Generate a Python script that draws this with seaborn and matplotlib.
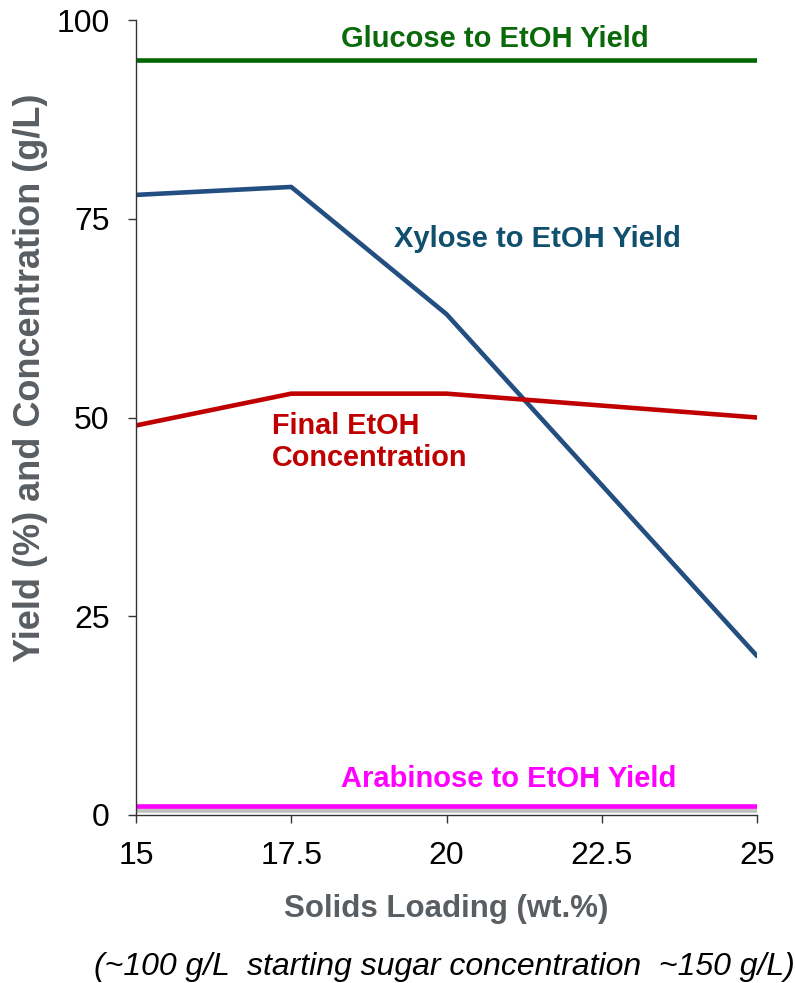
import pandas as pd
import matplotlib
matplotlib.use("Agg")
import matplotlib.pyplot as plt
import matplotlib.patheffects as pe
import seaborn as sns

solids = [15, 17.5, 20, 25]
glucose_yield = [95, 95, 95, 95]
xylose_yield = [78, 79, 63, 20]
etoh_conc = [49, 53, 53, 50]
arabinose_yield = [1.1, 1.1, 1.1, 1.1]

series = ["Glucose to EtOH Yield", "Xylose to EtOH Yield",
          "Final EtOH\nConcentration", "Arabinose to EtOH Yield"]
colors = ["#006600", "#224E80", "#C00000", "#FF00FF"]
text_colors = ["#0A6A0A", "#10506E", "#C00000", "#FF00FF"]

df = pd.concat([
    pd.DataFrame({"solids": solids, "value": vals, "series": name})
    for name, vals in zip(series, [glucose_yield, xylose_yield, etoh_conc, arabinose_yield])
])

sns.set_style("ticks")
plt.rcParams['font.family'] = ['Liberation Sans', 'DejaVu Sans']

fig = plt.figure(figsize=(7.95, 9.83), dpi=100)
ax = fig.add_axes([136 / 795, 1 - 815 / 983, (757 - 136) / 795, (815 - 20) / 983])

sns.lineplot(data=df, x="solids", y="value", hue="series", palette=dict(zip(series, colors)),
             linewidth=3.3, legend=False, ax=ax)

# drop shadow on the arabinose line
ax.lines[3].set_path_effects([pe.SimpleLineShadow(offset=(0, -2.5), shadow_color="gray", alpha=0.5),
                              pe.Normal()])

ax.set_xlim(15, 25)
ax.set_ylim(0, 100)
ax.set_xticks([15, 17.5, 20, 22.5, 25])
ax.set_xticklabels(["15", "17.5", "20", "22.5", "25"])
ax.set_yticks([0, 25, 50, 75, 100])
sns.despine(ax=ax)
for s in ["left", "bottom"]:
    ax.spines[s].set_color("#333333")
    ax.spines[s].set_linewidth(1)
ax.tick_params(axis="both", direction="out", length=6, width=1, color="#333333",
               labelsize=23, pad=13, labelcolor="black")

ax.set_xlabel("Solids Loading (wt.%)", fontsize=22.5, fontweight="bold", color="#595E63", labelpad=16)
ax.set_ylabel("Yield (%) and Concentration (g/L)", fontsize=26, fontweight="bold", color="#595E63")
ax.yaxis.set_label_coords(-0.142, 0.55)

ax.text(20.78, 97.6, series[0], color=text_colors[0], fontsize=21, fontweight="bold",
        ha="center", va="center")
ax.text(21.47, 72.4, series[1], color=text_colors[1], fontsize=21, fontweight="bold",
        ha="center", va="center")
ax.text(17.19, 46.9, series[2], color=text_colors[2], fontsize=20.8, fontweight="bold",
        ha="left", va="center", linespacing=1.2)
ax.text(21.0, 4.5, series[3], color=text_colors[3], fontsize=21, fontweight="bold",
        ha="center", va="center")

fig.text(444 / 795, 1 - 967 / 983, "(~100 g/L  starting sugar concentration  ~150 g/L)",
         fontsize=23, style="italic", ha="center", va="center", color="black")

fig.savefig("out.png", dpi=100)
